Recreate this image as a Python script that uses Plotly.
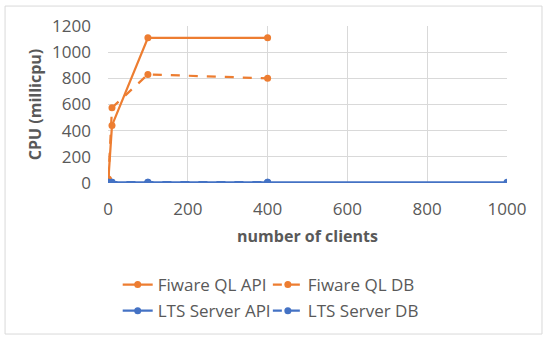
import plotly.graph_objects as go

# data
clients_fiware = [1, 10, 100, 400]
fiware_api = [30, 440, 1110, 1110]
fiware_db = [25, 575, 830, 800]

clients_lts_api = [1, 10, 100, 400, 1000]
lts_api = [5, 5, 5, 5, 5]
clients_lts_db = [1, 10, 100, 400]
lts_db = [6, 6, 6, 6]

orange = '#ED7D31'
blue = '#4472C4'
grey = '#595959'
font_family = "Open Sans"

fig = go.Figure()

# one legend per entry so the 2x2 grid can be placed exactly
series = [
    ("Fiware QL API", clients_fiware, fiware_api, orange, 'solid', 'legend'),
    ("Fiware QL DB", clients_fiware, fiware_db, orange, 'dash', 'legend2'),
    ("LTS Server API", clients_lts_api, lts_api, blue, 'solid', 'legend3'),
    ("LTS Server DB", clients_lts_db, lts_db, blue, 'dash', 'legend4'),
]

for name, xs, ys, color, dash, leg in series:
    fig.add_trace(go.Scatter(
        x=xs, y=ys, name=name,
        mode='lines+markers',
        line=dict(color=color, width=2.25, dash=dash),
        marker=dict(color=color, size=7),
        legend=leg,
    ))

fig.update_xaxes(
    range=[0, 1000], dtick=200,
    showgrid=True, gridcolor='#D9D9D9', gridwidth=1,
    zeroline=False, showline=False, automargin=False,
    ticks='', ticklabelstandoff=14,
    tickfont=dict(size=17, color=grey, family=font_family),
    title=dict(text="<b>number of clients</b>", standoff=11,
               font=dict(size=16, color=grey, family=font_family)),
)
fig.update_yaxes(
    range=[0, 1200], dtick=200,
    showgrid=True, gridcolor='#D9D9D9', gridwidth=1,
    zeroline=False, showline=False, automargin=False,
    ticks='', ticklabelstandoff=16,
    tickfont=dict(size=17, color=grey, family=font_family),
    title=dict(text="<b>CPU (millicpu)</b>", standoff=6,
               font=dict(size=16, color=grey, family=font_family)),
)

legend_style = dict(
    orientation='h', xref='container', yref='container',
    xanchor='left', yanchor='middle',
    font=dict(size=17, color=grey, family=font_family),
    itemwidth=30, bgcolor='rgba(0,0,0,0)',
)

fig.update_layout(
    width=550, height=343,
    margin=dict(l=108, r=43, t=26, b=160),
    paper_bgcolor='white', plot_bgcolor='white',
    font=dict(family=font_family, size=14, color=grey),
    showlegend=True,
    legend=dict(legend_style, x=0.214, y=0.169),
    legend2=dict(legend_style, x=0.487, y=0.169),
    legend3=dict(legend_style, x=0.214, y=0.093),
    legend4=dict(legend_style, x=0.487, y=0.093),
    shapes=[dict(type='rect', xref='paper', yref='paper',
                 x0=-0.258, x1=1.0877, y0=-0.962, y1=1.127,
                 line=dict(color='#D9D9D9', width=1))],
)

# drop the default body margin so the figure sits at the window's corner
fig.write_html("out.html", config={'displayModeBar': False},
               post_script="document.body.style.margin='0';")
